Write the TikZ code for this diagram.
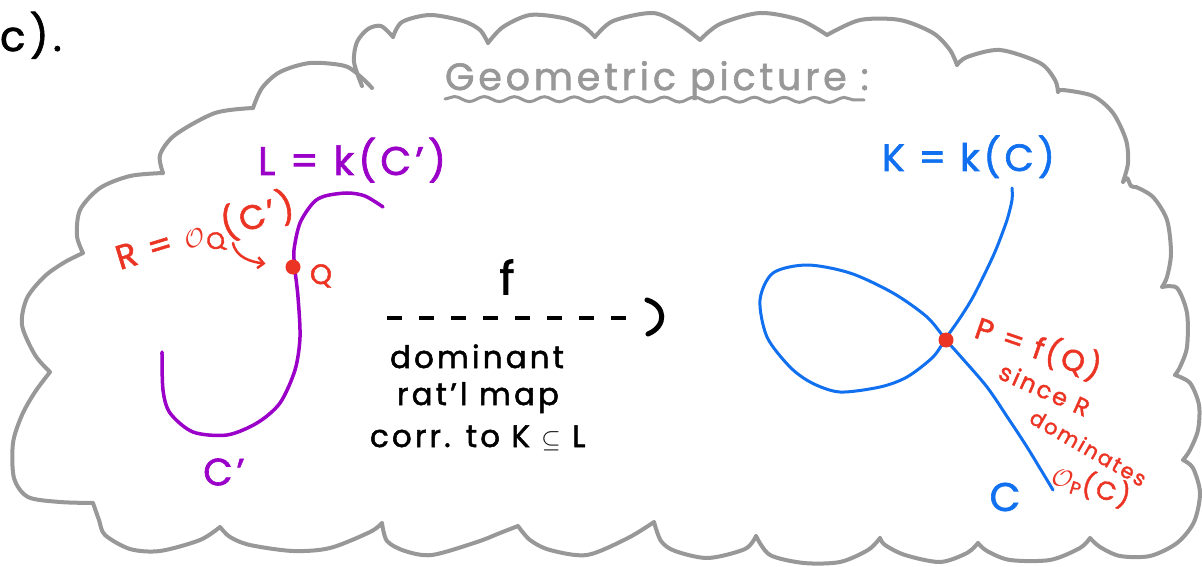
\documentclass[tikz,border=0pt]{standalone}
\usepackage{fontspec}
\setmainfont{Poppins}[LetterSpace=10,FakeBold=1.6]
\usetikzlibrary{arrows.meta,decorations.pathmorphing}
\definecolor{cloudgray}{RGB}{152,152,152}
\definecolor{curvepurple}{RGB}{155,0,200}
\definecolor{notered}{RGB}{236,52,36}
\definecolor{curveblue}{RGB}{16,112,240}
\newcommand{\myfs}[1]{\fontsize{#1}{#1}\selectfont}
\tikzset{
  cloudline/.style={draw=cloudgray, line width=4pt, line cap=round, line join=round},
  txt/.style={inner sep=0pt, outer sep=0pt},
  purplecurve/.style={draw=curvepurple, line width=3.5pt, line cap=round},
  bluecurve/.style={draw=curveblue, line width=3pt, line cap=round},
  reddot/.style={circle, fill=notered, inner sep=0pt, minimum size=15pt},
  redtext/.style={txt, text=notered},
}
\begin{document}
\begin{tikzpicture}[x=1pt,y=-1pt]
\useasboundingbox (0,0) rectangle (1202,567);
\fill[white] (0,0) rectangle (1202,567);

% cloud
\draw[cloudline]
  plot[smooth] coordinates {(362,86) (354,62) (357,42) (368,29) (381,26) (393,37)}
  plot[smooth] coordinates {(393,37) (402,22) (430,15) (463,21) (480,30) (488,43)}
  plot[smooth] coordinates {(488,43) (503,27) (530,15) (563,18) (583,26) (595,37)}
  plot[smooth] coordinates {(595,37) (613,21) (653,13) (680,25) (700,40)}
  plot[smooth] coordinates {(700,40) (720,24) (760,13) (800,20) (827,35)}
  plot[smooth] coordinates {(827,35) (860,20) (900,20) (933,33) (950,50) (957,65)}
  plot[smooth] coordinates {(957,65) (967,57) (1000,50) (1040,63) (1055,80) (1058,92)}
  plot[smooth] coordinates {(1058,92) (1063,90) (1093,96) (1113,113) (1126,140) (1128,163) (1123,182)}
  plot[smooth] coordinates {(1123,182) (1127,178) (1131,186) (1136,187)}
  plot[smooth] coordinates {(1136,187) (1153,197) (1167,220) (1171,253) (1167,277) (1162,287)}
  plot[smooth] coordinates {(1162,287) (1177,288) (1187,313) (1187,347) (1180,367) (1175,375)}
  plot[smooth] coordinates {(1175,375) (1190,383) (1199,405) (1198,430) (1190,450) (1183,460)}
  plot[smooth] coordinates {(1183,460) (1193,468) (1200,493) (1194,522) (1177,543) (1150,556) (1120,556) (1100,547) (1090,538)}
  plot[smooth] coordinates {(1090,538) (1080,548) (1050,560) (1010,560) (987,551) (978,543)}
  plot[smooth] coordinates {(978,543) (967,553) (940,562) (905,555) (885,545) (880,538)}
  plot[smooth] coordinates {(880,538) (868,550) (840,562) (804,563) (770,555) (756,536)}
  plot[smooth] coordinates {(756,536) (745,549) (708,558) (675,551) (661,541) (654,522)}
  plot[smooth] coordinates {(654,522) (628,538) (587,555) (550,550) (530,540) (518,526)}
  plot[smooth] coordinates {(518,526) (500,533) (477,542) (432,555) (405,551) (387,541) (382,523)}
  plot[smooth] coordinates {(382,523) (370,532) (330,548) (293,551) (250,545) (230,537) (220,527)}
  plot[smooth] coordinates {(220,527) (200,540) (160,551) (130,549) (105,535) (99,520) (93,503)}
  plot[smooth] coordinates {(93,503) (60,502) (28,497) (14,478) (13,443) (22,415) (35,392) (50,372)}
  plot[smooth] coordinates {(50,372) (35,355) (22,325) (27,298) (45,276) (65,262) (83,253)}
  plot[smooth] coordinates {(83,253) (77,236) (80,210) (100,188) (130,176) (163,173)}
  plot[smooth] coordinates {(163,173) (160,155) (175,135) (215,113) (253,108)}
  plot[smooth] coordinates {(253,108) (262,88) (280,72) (310,63) (345,66) (362,78) (372,88)};

% fragment at top left
\node[txt, font=\myfs{42}, anchor=base west] (frag) at (0,51) {c).};

% title
\node[txt, text=cloudgray, font=\myfs{38}, anchor=base west] (title) at (445,90) {Geometric picture :};
\coordinate (ul1) at (445,99);
\coordinate (ul2) at (864,100);
\draw[cloudgray, line width=3pt, line cap=round, decorate, decoration={snake, amplitude=2.5pt, segment length=30pt}] (ul1) -- (ul2);

% left curve C'
\node[txt, text=curvepurple, font=\myfs{40}, anchor=base west] (Lfield) at (258,175) {L = k(C’)};
\draw[purplecurve] plot[smooth] coordinates {(383,207) (365,196) (347,193) (325,196) (313,203) (300,223) (294,250) (295,270) (298,297) (300,337) (295,370) (280,403) (257,423) (227,435) (193,432) (170,413) (163,390) (162,352)};
\node[txt, text=curvepurple, font=\myfs{38}] (Cprime) at (224,472) {C’};
\node[reddot] (Qdot) at (293,267) {};
\node[redtext, font=\myfs{28}] (Qlabel) at (321,276) {Q};
\node[redtext, font=\myfs{34}, anchor=base west, rotate=17] (Rlabel) at (120,270) {R = \(\mathcal{O}\)\textsubscript{Q}(C’)};
\coordinate (rtail) at (233,243);
\draw[notered, line width=2.5pt, line cap=round, shorten >=20pt, -{Straight Barb[length=6pt,width=11pt]}] (rtail) .. controls (236,258) and (252,262) .. (Qdot);

% map f
\node[txt, font=\myfs{46}] (fmap) at (507,277) {f};
\coordinate (dstart) at (387,318);
\coordinate (dend) at (634,318);
\coordinate (tip) at (663,318);
\draw[line width=3.5pt, dash pattern=on 15pt off 17pt] (dstart) -- (dend);
\draw[line width=5pt, line cap=round] ([shift={(-16,-18)}]tip) .. controls ([shift={(3,-12)}]tip) and ([shift={(4,8)}]tip) .. ([shift={(-15,16)}]tip);
\node[txt, font=\myfs{31}, anchor=base west] (dom) at (390,368) {dominant};
\node[txt, font=\myfs{31}, anchor=base west] (rat) at (397,405) {rat’l map};
\node[txt, font=\myfs{31}, anchor=base west] (corr) at (370,447) {corr. to K \(\subseteq\) L};

% right curve C
\node[txt, text=curveblue, font=\myfs{38}, anchor=base west] (Kfield) at (882,171) {K = k(C)};
\draw[bluecurve] plot[smooth] coordinates {(1012,188) (1012,200) (1007,220) (997,247) (988,267) (973,297) (960,318) (946,338) (933,357) (907,377) (880,387) (840,392) (812,383) (790,367) (767,337) (760,300) (773,273) (807,265) (850,273) (893,293) (927,317) (946,340) (962,358) (987,387) (1008,418) (1027,447) (1047,480) (1053,490)};
\node[txt, text=curveblue, font=\myfs{40}] (Clabel) at (1005,497) {C};
\node[reddot] (Pdot) at (946,340) {};
\node[redtext, font=\myfs{30}, anchor=base west, rotate=-19] (Plabel) at (973,337) {P = f(Q)};
\node[redtext, font=\myfs{24}, anchor=base west, rotate=-24] (since) at (997,378) {since R};
\node[redtext, font=\myfs{21}, anchor=base west, rotate=-30] (domin) at (1028,422) {dominates};
\node[redtext, font=\myfs{26}, anchor=base west, rotate=-17] (OP) at (1050,483) {\(\mathcal{O}\)\textsubscript{P}(C)};
\end{tikzpicture}
\end{document}
